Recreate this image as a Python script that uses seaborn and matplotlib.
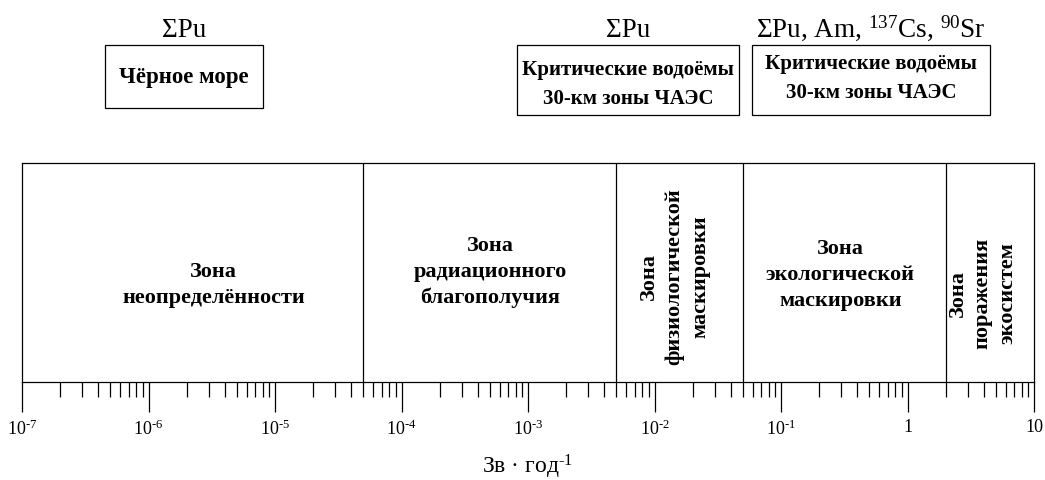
import matplotlib
matplotlib.use("Agg")
import matplotlib.pyplot as plt
from matplotlib.patches import Rectangle
import seaborn as sns
import numpy as np

# zones along the dose axis (Sv per year)
zone_edges = [1e-7, 5e-5, 5e-3, 5e-2, 2, 10]
zone_labels = ["Зона\nнеопределённости",
               "Зона\nрадиационного\nблагополучия",
               "Зона\nфизиологической\nмаскировки",
               "Зона\nэкологической\nмаскировки",
               "Зона\nпоражения\nэкосистем"]
zone_rotation = [0, 0, 90, 0, 90]

# major ticks
tick_exponents = [-7, -6, -5, -4, -3, -2, -1, 0, 1]
tick_labels = ["10$^{\\mathrm{‐7}}$", "10$^{\\mathrm{‐6}}$", "10$^{\\mathrm{‐5}}$",
               "10$^{\\mathrm{‐4}}$", "10$^{\\mathrm{‐3}}$", "10$^{\\mathrm{‐2}}$",
               "10$^{\\mathrm{‐1}}$", "1", "10"]

# objects studied (above the scale)
source_labels = ["ΣPu", "ΣPu", "ΣPu, Am, $^{\\mathrm{137}}$Cs, $^{\\mathrm{90}}$Sr"]
object_labels = ["Чёрное море",
                 "Критические водоёмы\n30-км зоны ЧАЭС",
                 "Критические водоёмы\n30-км зоны ЧАЭС"]

sns.set_theme(style="ticks")
plt.rcParams["font.family"] = ["Liberation Serif", "DejaVu Serif"]
plt.rcParams["mathtext.fontset"] = "custom"
plt.rcParams["mathtext.rm"] = "Liberation Serif"
plt.rcParams["mathtext.it"] = "Liberation Serif:italic"
plt.rcParams["mathtext.bf"] = "Liberation Serif:bold"

W, H = 1045, 481
fig = plt.figure(figsize=(W / 100, H / 100), dpi=100)
fig.patch.set_facecolor("white")

# main scale axes: pixel box 22..1034 x 164..383
ax = fig.add_axes([22 / W, (H - 383) / H, (1034 - 22) / W, (383 - 164) / H])
ax.set_xscale("log")
ax.set_xlim(zone_edges[0], zone_edges[-1])
ax.set_ylim(0, 1)

# zone boundaries
sns.rugplot(x=zone_edges[1:-1], height=1, ax=ax, color="black",
            linewidth=0.9, expand_margins=False)

for sp in ax.spines.values():
    sp.set_color("black")
    sp.set_linewidth(0.9)

ax.set_yticks([])
ax.set_xticks([10.0 ** e for e in tick_exponents])
ax.set_xticklabels(tick_labels)
ax.xaxis.set_minor_locator(matplotlib.ticker.LogLocator(base=10, subs=np.arange(2, 10)))
ax.xaxis.set_minor_formatter(matplotlib.ticker.NullFormatter())
ax.tick_params(axis="x", which="major", direction="out", length=21.6, width=0.9,
               color="black", labelsize=13, pad=4.5, labelcolor="black")
ax.tick_params(axis="x", which="minor", direction="out", length=10.8, width=0.9,
               color="black")
ax.set_xlabel("Зв · год$^{\\mathrm{‐1}}$", fontsize=17, color="black", labelpad=10)

# zone captions
label_y = [0.447, 0.507, 0.484, 0.493, 0.41]
label_shift = [21, 0, -5, -4, -7]
label_spacing = [1.4, 1.4, 1.4, 1.4, 1.3]
for i, lab in enumerate(zone_labels):
    xc = np.sqrt(zone_edges[i] * zone_edges[i + 1])
    ax.annotate(lab, xy=(xc, label_y[i]), xycoords=("data", "axes fraction"),
                xytext=(label_shift[i] * 0.72, 0), textcoords="offset points",
                ha="center", va="center", rotation=zone_rotation[i],
                fontsize=16, fontweight="bold", linespacing=label_spacing[i],
                color="black", multialignment="center")

# annotation layer in pixel units
top = fig.add_axes([0, 0, 1, 1], facecolor="none")
top.set_xlim(0, W)
top.set_ylim(H, 0)
top.axis("off")

box_x = [(105, 263), (517, 739), (752, 990)]
box_y = [(46, 109), (46, 116), (46, 116)]
text_y = [78, 84, 79]
text_size = [16.5, 15, 15]
for i in range(3):
    x0, x1 = box_x[i]
    y0, y1 = box_y[i]
    top.add_patch(Rectangle((x0, y0), x1 - x0, y1 - y0, fill=False,
                            edgecolor="black", linewidth=0.9))
    top.text((x0 + x1) / 2, 37, source_labels[i], ha="center", va="baseline",
             fontsize=19.5, color="black")
    top.text((x0 + x1) / 2, text_y[i], object_labels[i], ha="center", va="center",
             fontsize=text_size[i], fontweight="bold", linespacing=1.6, color="black")

fig.savefig("out.png", dpi=100, facecolor="white")
